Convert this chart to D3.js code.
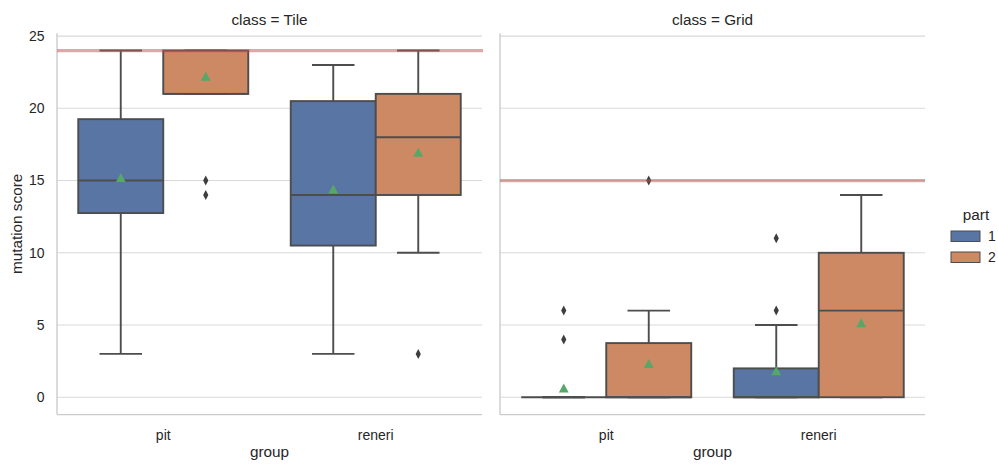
<!DOCTYPE html>
<html><head><meta charset="utf-8">
<script src="https://cdn.jsdelivr.net/npm/d3@7/dist/d3.min.js"></script>
<style>
body{margin:0;background:#fff;}
text{font-family:"Liberation Sans",Arial,sans-serif;fill:#262626;}
</style></head>
<body><svg id="c" width="998" height="464"></svg>
<script>
const classes = ["Tile", "Grid"];
const groups = ["pit", "reneri"];
const parts = ["1", "2"];
const refLines = [24, 15];
const yTicks = [0, 5, 10, 15, 20, 25];
// box statistics, order: class, group, part
const boxClass  = ["Tile","Tile","Tile","Tile","Grid","Grid","Grid","Grid"];
const boxGroup  = ["pit","pit","reneri","reneri","pit","pit","reneri","reneri"];
const boxPart   = ["1","2","1","2","1","2","1","2"];
const whiskLow  = [3, 21, 3, 10, 0, 0, 0, 0];
const q1        = [12.75, 21, 10.5, 14, 0, 0, 0, 0];
const median    = [15, 21, 14, 18, 0, 0, 0, 6];
const q3        = [19.25, 24, 20.5, 21, 0, 3.75, 2, 10];
const whiskHigh = [24, 24, 23, 24, 0, 6, 5, 14];
const means     = [15.2, 22.2, 14.4, 16.95, 0.62, 2.33, 1.82, 5.14];
const outliers  = [[], [15, 14], [], [3], [6, 4], [15], [11, 6], []];

const colors = {"1": "#5975a4", "2": "#cc8963"};
const edge = "#4d4d4d";

const svg = d3.select("#c");
const panelX = [57, 500];
const panelW = 425;
const plotTop = 33.2, plotBottom = 414.6;
const y = d3.scaleLinear().domain([-1.2, 25.2]).range([plotBottom, plotTop]);
const tickFs = 14, labelFs = 15.3;

classes.forEach((cls, ci) => {
  const x0 = panelX[ci];
  const g = svg.append("g");
  const x = d3.scaleBand().domain(groups).range([x0, x0 + panelW]).padding(0);
  const bw = x.bandwidth();
  const hx = d3.scaleBand().domain(parts).range([-0.4 * bw, 0.4 * bw]).padding(0);
  const w = hx.bandwidth();

  // grid
  g.selectAll(".grid").data(yTicks).join("line")
    .attr("x1", x0).attr("x2", x0 + panelW)
    .attr("y1", d => y(d)).attr("y2", d => y(d))
    .attr("stroke", "#d9d9d9").attr("stroke-width", 1.1);

  // spines
  g.append("line").attr("x1", x0).attr("x2", x0).attr("y1", plotTop).attr("y2", plotBottom)
    .attr("stroke", "#cccccc").attr("stroke-width", 1.4);
  g.append("line").attr("x1", x0).attr("x2", x0 + panelW).attr("y1", plotBottom).attr("y2", plotBottom)
    .attr("stroke", "#cccccc").attr("stroke-width", 1.4);

  if (ci === 0) {
    g.selectAll(".yt").data(yTicks).join("text")
      .attr("x", x0 - 12.5).attr("y", d => y(d)).attr("dy", "0.35em")
      .attr("text-anchor", "end").attr("font-size", tickFs).text(d => d);
    svg.append("text").attr("transform", `translate(21.5,${(plotTop + plotBottom) / 2}) rotate(-90)`)
      .attr("text-anchor", "middle").attr("font-size", labelFs).text("mutation score");
  }
  // x tick labels
  g.selectAll(".xt").data(groups).join("text")
    .attr("x", d => x(d) + bw / 2).attr("y", 439.5)
    .attr("text-anchor", "middle").attr("font-size", tickFs).text(d => d);
  g.append("text").attr("x", x0 + panelW / 2).attr("y", 456.5)
    .attr("text-anchor", "middle").attr("font-size", labelFs).text("group");
  g.append("text").attr("x", x0 + panelW / 2).attr("y", 24.5)
    .attr("text-anchor", "middle").attr("font-size", labelFs).text("class = " + cls);

  boxClass.forEach((c, i) => {
    if (c !== cls) return;
    const cx = x(boxGroup[i]) + bw / 2 + hx(boxPart[i]) + w / 2;
    const bx = cx - w / 2;
    const lw = 1.9;
    // whiskers
    g.append("line").attr("x1", cx).attr("x2", cx).attr("y1", y(q1[i])).attr("y2", y(whiskLow[i]))
      .attr("stroke", edge).attr("stroke-width", lw);
    g.append("line").attr("x1", cx).attr("x2", cx).attr("y1", y(q3[i])).attr("y2", y(whiskHigh[i]))
      .attr("stroke", edge).attr("stroke-width", lw);
    [whiskLow[i], whiskHigh[i]].forEach(v => {
      g.append("line").attr("x1", cx - w / 4).attr("x2", cx + w / 4).attr("y1", y(v)).attr("y2", y(v))
        .attr("stroke", edge).attr("stroke-width", lw);
    });
    // box
    g.append("rect").attr("x", bx).attr("width", w)
      .attr("y", y(q3[i])).attr("height", Math.max(0, y(q1[i]) - y(q3[i])))
      .attr("fill", colors[boxPart[i]]).attr("stroke", edge).attr("stroke-width", lw);
    // median
    g.append("line").attr("x1", bx).attr("x2", bx + w).attr("y1", y(median[i])).attr("y2", y(median[i]))
      .attr("stroke", edge).attr("stroke-width", lw);
    // outliers
    outliers[i].forEach(v => {
      g.append("path").attr("d", "M0,-5L2.6,0L0,5L-2.6,0Z")
        .attr("transform", `translate(${cx},${y(v)})`).attr("fill", "#3d3d3d");
    });
    // mean
    g.append("path").attr("d", "M0,-4.7L4.9,4.3L-4.9,4.3Z")
      .attr("transform", `translate(${cx},${y(means[i])})`).attr("fill", "#55a868");
  });

  // reference line
  g.append("line").attr("x1", x0).attr("x2", x0 + panelW + (ci === 0 ? 1 : 0))
    .attr("y1", y(refLines[ci])).attr("y2", y(refLines[ci]))
    .attr("stroke", "#c44e52").attr("stroke-opacity", 0.5).attr("stroke-width", 3.2);
});

// legend
const lg = svg.append("g");
lg.append("text").attr("x", 976).attr("y", 219.5).attr("text-anchor", "middle").attr("font-size", labelFs).text("part");
parts.forEach((p, i) => {
  const yy = 231 + i * 21;
  lg.append("rect").attr("x", 951).attr("y", yy).attr("width", 29).attr("height", 10.5)
    .attr("fill", colors[p]).attr("stroke", edge).attr("stroke-width", 1);
  lg.append("text").attr("x", 988).attr("y", yy + 5.5).attr("dy", "0.35em").attr("font-size", tickFs).text(p);
});
</script></body></html>
